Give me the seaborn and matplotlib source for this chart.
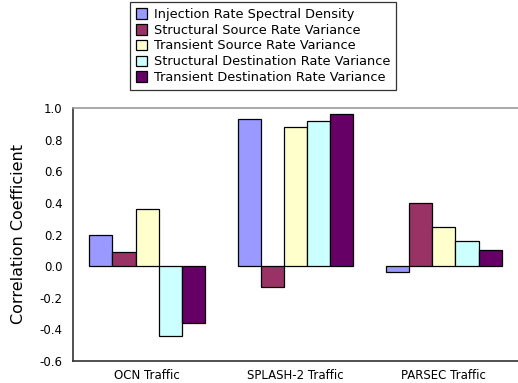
import pandas as pd
import seaborn as sns
import matplotlib.pyplot as plt
from matplotlib.ticker import FixedLocator

# Values
traffic = ["OCN Traffic", "SPLASH-2 Traffic", "PARSEC Traffic"]
metrics = [
    "Injection Rate Spectral Density",
    "Structural Source Rate Variance",
    "Transient Source Rate Variance",
    "Structural Destination Rate Variance",
    "Transient Destination Rate Variance",
]
injection_density = [0.20, 0.93, -0.04]
struct_source = [0.09, -0.13, 0.40]
trans_source = [0.36, 0.88, 0.25]
struct_dest = [-0.44, 0.92, 0.16]
trans_dest = [-0.36, 0.96, 0.10]
colors = ["#9999FF", "#993366", "#FFFFCC", "#CCFFFF", "#660066"]

series = [injection_density, struct_source, trans_source, struct_dest, trans_dest]
rows = []
for m, vals in zip(metrics, series):
    for t, v in zip(traffic, vals):
        rows.append({"Traffic": t, "Metric": m, "Value": v})
data = pd.DataFrame(rows)

sns.set_style("white")
plt.rcParams["font.family"] = ["DejaVu Sans"]

fig = plt.figure(figsize=(5.18, 3.83), dpi=100)
ax = fig.add_axes([73 / 518, 1 - 361 / 383, 445 / 518, 253 / 383])

sns.barplot(data=data, x="Traffic", y="Value", hue="Metric", hue_order=metrics,
            order=traffic, palette=colors, saturation=1, width=0.78,
            edgecolor="black", linewidth=0.9, ax=ax, legend=True)

ax.set_ylim(-0.6, 1.0)
ax.set_xlim(-0.5, 2.5)
ax.set_yticks([-0.6, -0.4, -0.2, 0.0, 0.2, 0.4, 0.6, 0.8, 1.0])
ax.set_yticklabels([f"{v:.1f}" for v in ax.get_yticks()], fontsize=8.5, color="black")
ax.set_xticks(range(3))
ax.set_xticklabels(traffic, fontsize=8.5, color="black")
ax.tick_params(axis="x", which="major", length=0, pad=6)
ax.tick_params(axis="y", which="major", length=4, width=0.8, direction="out", color="#333333")
ax.xaxis.set_minor_locator(FixedLocator([0.5, 1.5]))
ax.tick_params(axis="x", which="minor", length=6, width=0.8, direction="in", color="#333333")
ax.set_xlabel("")
ax.set_ylabel("Correlation Coefficient", fontsize=11.5, color="black", labelpad=10)

for side in ["left", "bottom"]:
    ax.spines[side].set_color("#333333")
    ax.spines[side].set_linewidth(1.2)
ax.spines["top"].set_color("#999999")
ax.spines["top"].set_linewidth(1.2)
ax.spines["right"].set_visible(False)

handles, labels = ax.get_legend_handles_labels()
ax.get_legend().remove()
leg = fig.legend(handles, labels, loc="upper left", bbox_to_anchor=(130 / 518, 1 - 2 / 383),
                 fontsize=9.3, frameon=True, fancybox=False, edgecolor="black",
                 handlelength=0.9, handleheight=0.9, handletextpad=0.5,
                 labelspacing=0.22, borderpad=0.45, borderaxespad=0)
leg.get_frame().set_linewidth(0.9)
for t in leg.get_texts():
    t.set_color("black")

fig.savefig("out.png", dpi=100)
